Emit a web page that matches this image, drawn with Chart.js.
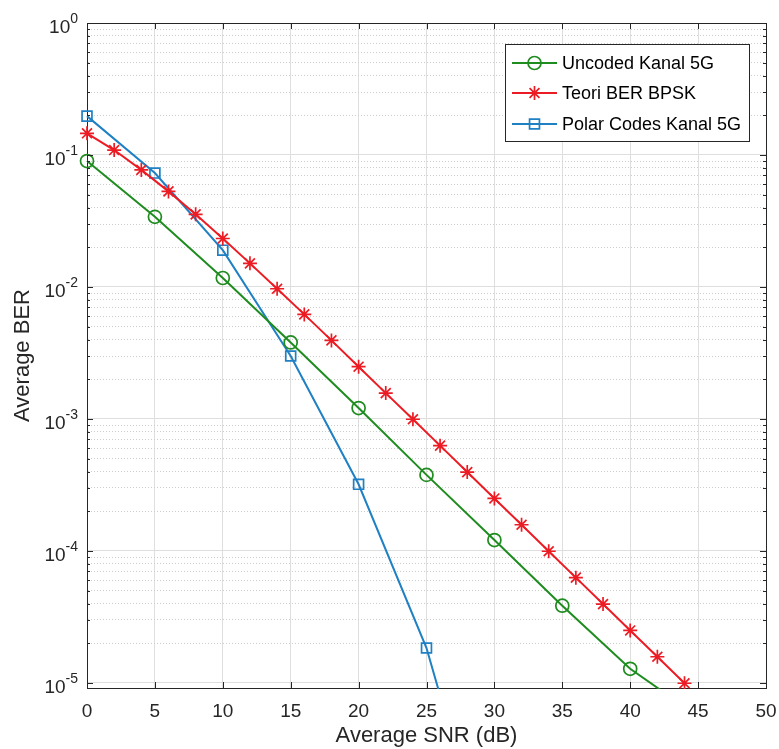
<!DOCTYPE html>
<html lang="en">

<head>
    <meta charset="UTF-8">
    <title>Average BER vs Average SNR</title>
    <script src="https://cdn.jsdelivr.net/npm/chart.js"></script>
    <style>
        body {
            margin: 0;
            background-color: #ffffff;
        }
    </style>
</head>

<body>
    <canvas id="berChart" width="779" height="749"></canvas>

    <script>
        // data
        const snrUncoded = [0, 5, 10, 15, 20, 25, 30, 35, 40, 45];
        const berUncoded = [0.090, 0.034, 0.0117, 0.0038, 0.00121, 3.77e-4, 1.21e-4, 3.85e-5, 1.28e-5, 5.6e-6];

        const snrTheory = [0, 2, 4, 6, 8, 10, 12, 14, 16, 18, 20, 22, 24, 26, 28, 30, 32, 34, 36, 38, 40, 42, 44];
        const berTheory = [0.146, 0.109, 0.0771, 0.0530, 0.0355, 0.0233, 0.0151, 0.0097, 0.0062, 0.00394,
            0.00249, 0.00157, 9.95e-4, 6.28e-4, 3.96e-4, 2.50e-4, 1.58e-4, 9.95e-5, 6.28e-5, 3.96e-5,
            2.50e-5, 1.58e-5, 9.95e-6];

        const snrPolar = [0, 5, 10, 15, 20, 25, 30];
        const berPolar = [0.197, 0.073, 0.019, 0.0030, 3.2e-4, 1.84e-5, 3e-7];

        const seriesLabels = ['Uncoded Kanal 5G', 'Teori BER BPSK', 'Polar Codes Kanal 5G'];

        // axis ticks
        const xTicks = [0, 5, 10, 15, 20, 25, 30, 35, 40, 45, 50];
        const yExponents = [0, -1, -2, -3, -4, -5];
        const yMinor = [2, 3, 4, 5, 6, 7, 8, 9];
        const yMin = 9.16e-6;
        const yMax = 1;

        const FONT = "'Liberation Sans', Arial, Helvetica, sans-serif";
        const AXIS = '#262626';

        function points(xs, ys) {
            return xs.map((x, i) => ({ x: x, y: ys[i] }));
        }

        function isDecade(v) {
            const e = Math.log10(v);
            return Math.abs(e - Math.round(e)) < 1e-9;
        }

        // marker drawing for the legend box
        function drawMarker(ctx, style, x, y, r) {
            ctx.beginPath();
            if (style === 'circle') {
                ctx.arc(x, y, r, 0, Math.PI * 2);
            } else if (style === 'rect') {
                const s = r * Math.SQRT1_2;
                ctx.rect(x - s, y - s, 2 * s, 2 * s);
            } else if (style === 'star') {
                for (let k = 0; k < 4; k++) {
                    const a = k * Math.PI / 4;
                    const dx = Math.cos(a) * r, dy = Math.sin(a) * r;
                    ctx.moveTo(x - dx, y - dy);
                    ctx.lineTo(x + dx, y + dy);
                }
            }
            ctx.stroke();
        }

        const matlabAxes = {
            id: 'matlabAxes',
            afterDraw(chart) {
                const { ctx, chartArea: a, scales } = chart;
                const xs = scales.x, ys = scales.y;
                ctx.save();

                // box round the axes
                ctx.strokeStyle = AXIS;
                ctx.lineWidth = 1;
                ctx.beginPath();
                ctx.moveTo(a.left, a.top + 0.5);
                ctx.lineTo(a.right + 0.5, a.top + 0.5);
                ctx.lineTo(a.right + 0.5, a.bottom);
                ctx.stroke();

                // inward ticks
                ctx.beginPath();
                xs.ticks.forEach(t => {
                    const px = Math.round(xs.getPixelForValue(t.value)) + 0.5;
                    ctx.moveTo(px, a.bottom); ctx.lineTo(px, a.bottom - 6);
                    ctx.moveTo(px, a.top); ctx.lineTo(px, a.top + 6);
                });
                ys.ticks.forEach(t => {
                    const py = Math.round(ys.getPixelForValue(t.value)) + 0.5;
                    const len = isDecade(t.value) ? 6 : 3;
                    ctx.moveTo(a.left, py); ctx.lineTo(a.left + len, py);
                    ctx.moveTo(a.right, py); ctx.lineTo(a.right - len, py);
                });
                ctx.stroke();

                // y tick labels 10^n
                ctx.fillStyle = AXIS;
                ctx.textAlign = 'left';
                ctx.textBaseline = 'alphabetic';
                yExponents.forEach(e => {
                    const py = ys.getPixelForValue(Math.pow(10, e));
                    const expText = String(e);
                    ctx.font = '14px ' + FONT;
                    const ew = ctx.measureText(expText).width;
                    ctx.font = '19px ' + FONT;
                    const bw = ctx.measureText('10').width;
                    const right = a.left - 9;
                    ctx.fillText('10', right - ew - bw, py + 10);
                    ctx.font = '14px ' + FONT;
                    ctx.fillText(expText, right - ew, py);
                });

                // legend
                const bx = 505, by = 44, bw = 244, bh = 97;
                ctx.fillStyle = '#ffffff';
                ctx.fillRect(bx, by, bw, bh);
                ctx.strokeStyle = AXIS;
                ctx.strokeRect(bx + 0.5, by + 0.5, bw, bh);
                const rows = [63, 93, 124];
                chart.data.datasets.forEach((ds, i) => {
                    const y = rows[i];
                    ctx.strokeStyle = ds.borderColor;
                    ctx.lineWidth = ds.borderWidth;
                    ctx.beginPath();
                    ctx.moveTo(512, y); ctx.lineTo(557, y);
                    ctx.stroke();
                    ctx.lineWidth = ds.pointBorderWidth;
                    drawMarker(ctx, ds.pointStyle, 534.5, y, ds.pointRadius);
                    ctx.fillStyle = '#000000';
                    ctx.font = '18px ' + FONT;
                    ctx.textBaseline = 'middle';
                    ctx.fillText(ds.label, 562, y + 1);
                });
                ctx.restore();
            }
        };

        function renderChart() {
            const ctx = document.getElementById('berChart').getContext('2d');
            const common = {
                showLine: true,
                tension: 0,
                borderWidth: 2,
                pointBorderWidth: 1.7,
                pointBackgroundColor: 'rgba(0,0,0,0)',
                clip: { left: 12, right: 12, top: 12, bottom: 1 }
            };
            new Chart(ctx, {
                type: 'line',
                data: {
                    datasets: [
                        Object.assign({
                            label: seriesLabels[0],
                            data: points(snrUncoded, berUncoded),
                            borderColor: '#1f8c1f',
                            pointBorderColor: '#1f8c1f',
                            pointStyle: 'circle',
                            pointRadius: 6.5
                        }, common),
                        Object.assign({
                            label: seriesLabels[1],
                            data: points(snrTheory, berTheory),
                            borderColor: '#ec1c24',
                            pointBorderColor: '#ec1c24',
                            pointStyle: 'star',
                            pointRadius: 7
                        }, common),
                        Object.assign({
                            label: seriesLabels[2],
                            data: points(snrPolar, berPolar),
                            borderColor: '#1f80c4',
                            pointBorderColor: '#1f80c4',
                            pointStyle: 'rect',
                            pointRadius: 7
                        }, common)
                    ]
                },
                options: {
                    responsive: false,
                    animation: false,
                    devicePixelRatio: 1,
                    layout: {
                        padding: { top: 23, right: 13, left: 0, bottom: 0 }
                    },
                    plugins: {
                        legend: { display: false },
                        tooltip: { enabled: false }
                    },
                    scales: {
                        x: {
                            type: 'linear',
                            min: 0,
                            max: 50,
                            afterBuildTicks: s => { s.ticks = xTicks.map(v => ({ value: v })); },
                            afterFit: s => {
                                s.height = 61;
                                s.paddingLeft = 0;
                                s.paddingRight = 0;
                            },
                            ticks: {
                                color: AXIS,
                                padding: 12,
                                maxRotation: 0,
                                font: { family: FONT, size: 19 }
                            },
                            grid: {
                                color: '#dedede',
                                lineWidth: 1,
                                drawTicks: false
                            },
                            border: { display: true, color: AXIS, width: 1 },
                            title: {
                                display: true,
                                text: 'Average SNR (dB)',
                                color: AXIS,
                                padding: { top: 0, bottom: 0 },
                                font: { family: FONT, size: 22 }
                            }
                        },
                        y: {
                            type: 'logarithmic',
                            min: yMin,
                            max: yMax,
                            afterBuildTicks: s => {
                                const t = [];
                                yExponents.slice().reverse().forEach(e => {
                                    const d = Math.pow(10, e);
                                    t.push({ value: d, major: true });
                                    if (e < 0) yMinor.forEach(m => t.push({ value: m * d, major: false }));
                                });
                                s.ticks = t;
                            },
                            afterFit: s => {
                                s.width = 87;
                                s.paddingTop = 0;
                                s.paddingBottom = 0;
                            },
                            ticks: { display: false },
                            grid: {
                                color: c => (c.tick && !isDecade(c.tick.value)) ? '#cccccc' : '#dedede',
                                lineWidth: 1,
                                drawTicks: false
                            },
                            border: {
                                display: true,
                                color: AXIS,
                                width: 1,
                                dash: c => (c.tick && !isDecade(c.tick.value)) ? [1, 2] : []
                            },
                            title: {
                                display: true,
                                text: 'Average BER',
                                color: AXIS,
                                padding: { top: 10, bottom: 0 },
                                font: { family: FONT, size: 22 }
                            }
                        }
                    }
                },
                plugins: [matlabAxes]
            });
        }

        document.addEventListener("DOMContentLoaded", renderChart);
    </script>

</body>

</html>
